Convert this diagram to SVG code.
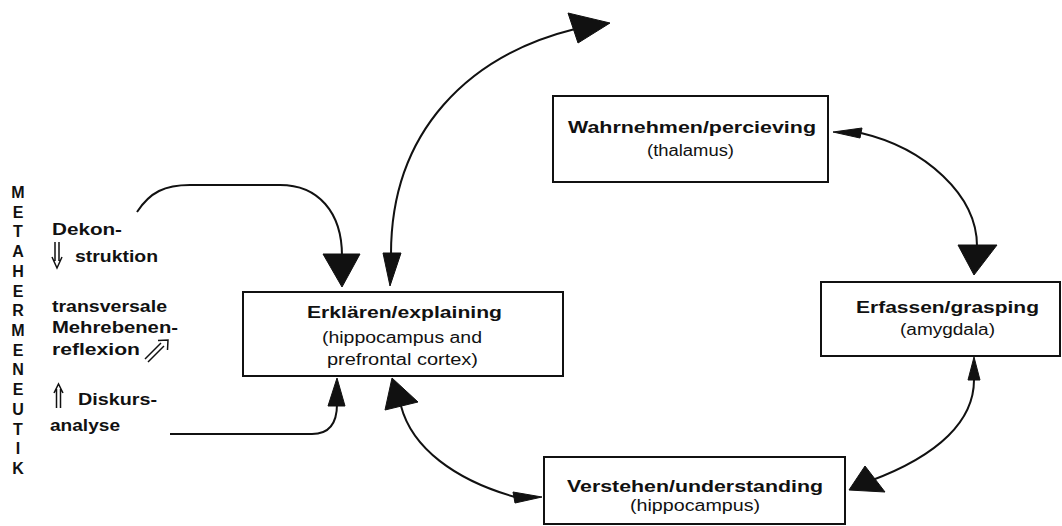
<svg xmlns="http://www.w3.org/2000/svg" width="1062" height="526" viewBox="0 0 1062 526">
<style>
  .box{fill:#fff;stroke:#111;stroke-width:2}
  .t{font-family:"Liberation Sans",Arial,sans-serif;fill:#111}
  .b{font-weight:bold;font-size:17px}
  .r{font-size:16px}
  .l{font-weight:bold;font-size:16px}
  .v{font-weight:bold;font-size:16px;text-anchor:middle}
  .c{fill:none;stroke:#111;stroke-width:2}
  .h{fill:#111;stroke:#111;stroke-width:1;stroke-linejoin:round}
  .d{fill:none;stroke:#111;stroke-width:1.5}
</style>
<rect width="1062" height="526" fill="#fff"/>
<g id="metahermeneutik" class="t">
  <text class="t v" x="18" y="198">M</text>
  <text class="t v" x="18" y="217.7">E</text>
  <text class="t v" x="18" y="237.4">T</text>
  <text class="t v" x="18" y="257.1">A</text>
  <text class="t v" x="18" y="276.9">H</text>
  <text class="t v" x="18" y="296.6">E</text>
  <text class="t v" x="18" y="316.3">R</text>
  <text class="t v" x="18" y="336">M</text>
  <text class="t v" x="18" y="355.7">E</text>
  <text class="t v" x="18" y="375.4">N</text>
  <text class="t v" x="18" y="395.1">E</text>
  <text class="t v" x="18" y="414.9">U</text>
  <text class="t v" x="18" y="434.6">T</text>
  <text class="t v" x="18" y="454.3">I</text>
  <text class="t v" x="18" y="474">K</text>
</g>
<g id="dekonstruktion">
  <text class="t l" x="52" y="235" textLength="70" lengthAdjust="spacingAndGlyphs">Dekon-</text>
  <path class="d" d="M55,242 V261 M59,242 V261 M52,257 L57,268 L62,257"/>
  <text class="t l" x="75" y="262" textLength="83" lengthAdjust="spacingAndGlyphs">struktion</text>
</g>
<g id="reflexion">
  <text class="t l" x="52" y="312" textLength="115" lengthAdjust="spacingAndGlyphs">transversale</text>
  <text class="t l" x="52" y="333" textLength="126" lengthAdjust="spacingAndGlyphs">Mehrebenen-</text>
  <text class="t l" x="52" y="355" textLength="88" lengthAdjust="spacingAndGlyphs">reflexion</text>
  <path class="d" d="M145,359 L161,343 M148,362 L164,346 M158,340.5 L168,340 L167.5,350"/>
</g>
<g id="diskursanalyse">
  <path class="d" d="M56.5,408 V389 M60.5,408 V389 M54,393 L58.5,384 L63,393"/>
  <text class="t l" x="78" y="405" textLength="79" lengthAdjust="spacingAndGlyphs">Diskurs-</text>
  <text class="t l" x="50" y="431" textLength="70" lengthAdjust="spacingAndGlyphs">analyse</text>
</g>
<g id="erklaeren">
  <rect class="box" x="243" y="292" width="320" height="84"/>
  <text class="t b" x="307" y="318" textLength="195" lengthAdjust="spacingAndGlyphs">Erklären/explaining</text>
  <text class="t r" x="322" y="343" textLength="160" lengthAdjust="spacingAndGlyphs">(hippocampus and</text>
  <text class="t r" x="327" y="365" textLength="151" lengthAdjust="spacingAndGlyphs">prefrontal cortex)</text>
</g>
<g id="wahrnehmen">
  <rect class="box" x="553" y="96" width="275" height="86"/>
  <text class="t b" x="568" y="133" textLength="248" lengthAdjust="spacingAndGlyphs">Wahrnehmen/percieving</text>
  <text class="t r" x="647" y="156" textLength="87" lengthAdjust="spacingAndGlyphs">(thalamus)</text>
</g>
<g id="erfassen">
  <rect class="box" x="821" y="282" width="239" height="74"/>
  <text class="t b" x="856" y="313" textLength="183" lengthAdjust="spacingAndGlyphs">Erfassen/grasping</text>
  <text class="t r" x="900" y="335" textLength="95" lengthAdjust="spacingAndGlyphs">(amygdala)</text>
</g>
<g id="verstehen">
  <rect class="box" x="544" y="457" width="301" height="67"/>
  <text class="t b" x="567" y="492" textLength="256" lengthAdjust="spacingAndGlyphs">Verstehen/understanding</text>
  <text class="t r" x="630" y="511" textLength="130" lengthAdjust="spacingAndGlyphs">(hippocampus)</text>
</g>
<g id="connectors">
  <path class="c" d="M137,212 C150,192 165,185 190,185 L280,185 C318,185 342,212 342,256"/>
  <polygon class="h" points="342,287 323,254 360,254"/>
  <path class="c" d="M391,254 C391,130 470,55 575,29"/>
  <polygon class="h" points="390,286 383,253 401,253"/>
  <polygon class="h" points="610,23 568,13 578,43"/>
  <path class="c" d="M861,133 C925,148 977,195 977,246"/>
  <polygon class="h" points="833,132 862,128 860,138"/>
  <polygon class="h" points="974,275 958,245 997,245"/>
  <path class="c" d="M974,380 C974,420 940,455 870,481"/>
  <polygon class="h" points="974,357 968,380 980,380"/>
  <polygon class="h" points="849,490 865,466 885,492"/>
  <path class="c" d="M401,406 C412,448 455,480 515,497"/>
  <polygon class="h" points="392,378 385,410 418,402"/>
  <polygon class="h" points="542,497 513,492 515,503"/>
  <path class="c" d="M170,434 L312,434 C328,434 337,424 337,404"/>
  <polygon class="h" points="337,378 328,406 345,406"/>
</g>
</svg>
